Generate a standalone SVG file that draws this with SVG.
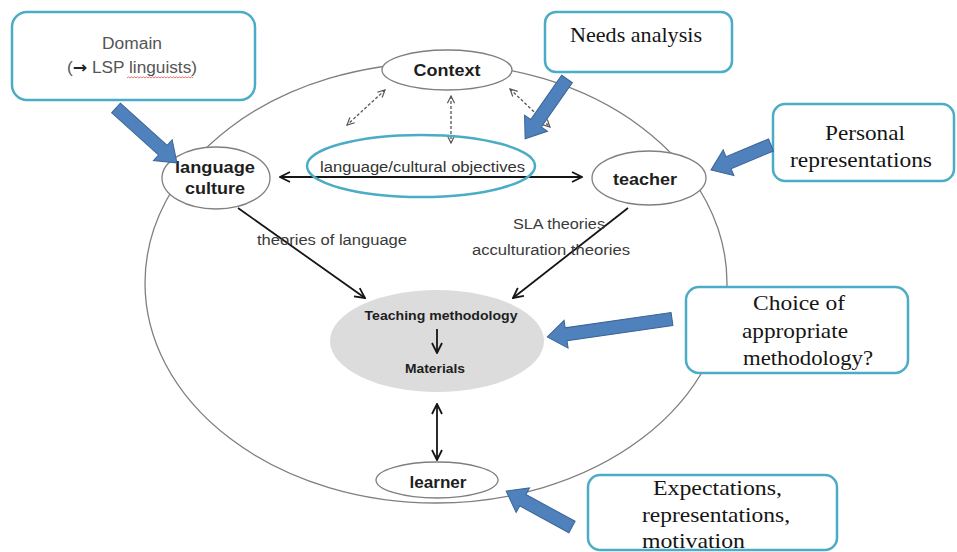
<svg xmlns="http://www.w3.org/2000/svg" width="957" height="552" viewBox="0 0 957 552">
<style>
.bg{fill:#fff}
.ring{fill:none;stroke:#7f7f7f;stroke-width:1.3}
.node{fill:#fff;stroke:#7f7f7f;stroke-width:1.3}
.lbl{font-family:"Liberation Sans",Arial,sans-serif;font-weight:bold;fill:#1e1e1e;text-anchor:middle}
.th{font-family:"Liberation Sans",Arial,sans-serif;fill:#3a3a3a;font-size:14px}
.box{fill:#fff;stroke:#4bacc6;stroke-width:2.5}
.ser{font-family:"Liberation Serif","Times New Roman",serif;font-size:22px;fill:#151515}
.blk{fill:#4f81bd;stroke:#3c6496;stroke-width:1}
.ln{stroke:#151515;stroke-width:1.8;fill:none}
.dot{stroke:#555;stroke-width:1.3;stroke-dasharray:3 2;fill:none}
</style>
<defs>
<marker id="ah" viewBox="0 0 12 12" refX="11" refY="6" markerWidth="12" markerHeight="12" markerUnits="userSpaceOnUse" orient="auto-start-reverse">
<path d="M1,1 L11,6 L1,11" fill="none" stroke="#151515" stroke-width="1.8"/>
</marker>
<marker id="ahd" viewBox="0 0 10 10" refX="9" refY="5" markerWidth="9" markerHeight="9" markerUnits="userSpaceOnUse" orient="auto-start-reverse">
<path d="M1,1 L9,5 L1,9" fill="none" stroke="#555" stroke-width="1.3"/>
</marker>
</defs>
<rect class="bg" x="0" y="0" width="957" height="552"/>
<ellipse id="context-ring" class="ring" cx="436" cy="283" rx="291" ry="220"/>

<g id="connectors">
<line class="ln" x1="280" y1="177" x2="582" y2="177" marker-start="url(#ah)" marker-end="url(#ah)"/>
<line class="dot" x1="385" y1="90" x2="347" y2="125" marker-start="url(#ahd)" marker-end="url(#ahd)"/>
<line class="dot" x1="451" y1="96" x2="451" y2="143" marker-start="url(#ahd)" marker-end="url(#ahd)"/>
<line class="dot" x1="510" y1="89" x2="550" y2="127" marker-start="url(#ahd)" marker-end="url(#ahd)"/>
<line class="ln" x1="238" y1="208" x2="365" y2="298" marker-end="url(#ah)"/>
<line class="ln" x1="628" y1="208" x2="513" y2="298" marker-end="url(#ah)"/>
<line class="ln" x1="437" y1="404" x2="437" y2="460" marker-start="url(#ah)" marker-end="url(#ah)"/>
</g>

<g id="objectives">
<ellipse cx="421" cy="166" rx="114" ry="31" fill="none" stroke="#4bacc6" stroke-width="2.5"/>
<text x="320" y="172" font-family="Liberation Sans, Arial, sans-serif" font-size="14" fill="#333" textLength="205" lengthAdjust="spacingAndGlyphs">language/cultural objectives</text>
</g>

<g id="context">
<ellipse class="node" cx="447" cy="70" rx="65" ry="20"/>
<text class="lbl" x="447" y="76" font-size="17" textLength="67" lengthAdjust="spacingAndGlyphs">Context</text>
</g>

<g id="language-culture">
<ellipse class="node" cx="216" cy="178" rx="54" ry="31"/>
<text class="lbl" x="215" y="173" font-size="17" textLength="80" lengthAdjust="spacingAndGlyphs">language</text>
<text class="lbl" x="215" y="194" font-size="17" textLength="60" lengthAdjust="spacingAndGlyphs">culture</text>
</g>

<g id="teacher">
<ellipse class="node" cx="649" cy="178" rx="57" ry="27"/>
<text class="lbl" x="645" y="185" font-size="17" textLength="64" lengthAdjust="spacingAndGlyphs">teacher</text>
</g>

<g id="theory-labels">
<text class="th" x="257" y="245" textLength="150" lengthAdjust="spacingAndGlyphs">theories of language</text>
<text class="th" x="513" y="229" textLength="92" lengthAdjust="spacingAndGlyphs">SLA theories</text>
<text class="th" x="472" y="255" textLength="158" lengthAdjust="spacingAndGlyphs">acculturation theories</text>
</g>

<g id="teaching">
<ellipse cx="437" cy="341" rx="107" ry="51" fill="#dcdcdc"/>
<text class="lbl" x="441" y="320" font-size="12.5" textLength="153" lengthAdjust="spacingAndGlyphs">Teaching methodology</text>
<line class="ln" x1="437" y1="329" x2="437" y2="353" marker-end="url(#ah)"/>
<text class="lbl" x="435" y="373" font-size="12.5" textLength="60" lengthAdjust="spacingAndGlyphs">Materials</text>
</g>

<g id="learner">
<ellipse class="node" cx="437" cy="480" rx="61" ry="18"/>
<text class="lbl" x="438" y="488" font-size="16" textLength="57" lengthAdjust="spacingAndGlyphs">learner</text>
</g>

<g id="domain">
<rect class="box" x="12" y="12" width="243" height="88" rx="15"/>
<text x="132" y="49" font-family="Liberation Sans, Arial, sans-serif" font-size="16" fill="#555" text-anchor="middle" textLength="60" lengthAdjust="spacingAndGlyphs">Domain</text>
<text x="132" y="73" font-family="Liberation Sans, Arial, sans-serif" font-size="16" fill="#555" text-anchor="middle" textLength="130" lengthAdjust="spacingAndGlyphs">(<tspan font-family="DejaVu Sans, sans-serif" font-weight="bold" fill="#222">→</tspan> LSP linguists)</text>
<path d="M127,78 l1.5,-1.2 l1.5,1.2 l1.5,-1.2 l1.5,1.2 l1.5,-1.2 l1.5,1.2 l1.5,-1.2 l1.5,1.2 l1.5,-1.2 l1.5,1.2 l1.5,-1.2 l1.5,1.2 l1.5,-1.2 l1.5,1.2 l1.5,-1.2 l1.5,1.2 l1.5,-1.2 l1.5,1.2 l1.5,-1.2 l1.5,1.2 l1.5,-1.2 l1.5,1.2 l1.5,-1.2 l1.5,1.2 l1.5,-1.2 l1.5,1.2 l1.5,-1.2 l1.5,1.2 l1.5,-1.2 l1.5,1.2 l1.5,-1.2 l1.5,1.2 l1.5,-1.2 l1.5,1.2 l1.5,-1.2 l1.5,1.2 l1.5,-1.2 l1.5,1.2 l1.5,-1.2 l1.5,1.2 l1.5,-1.2 l1.5,1.2 l1.5,-1.2 l1.5,1.2" fill="none" stroke="#e05050" stroke-width="0.8"/>
</g>

<g id="needs-analysis">
<rect class="box" x="545" y="12" width="187" height="60" rx="11"/>
<text class="ser" x="570" y="42" textLength="132" lengthAdjust="spacingAndGlyphs">Needs analysis</text>
</g>

<g id="personal">
<rect class="box" x="773" y="104" width="181" height="77" rx="12"/>
<text class="ser" x="825" y="140" textLength="80" lengthAdjust="spacingAndGlyphs">Personal</text>
<text class="ser" x="790" y="167" textLength="142" lengthAdjust="spacingAndGlyphs">representations</text>
</g>

<g id="choice">
<rect class="box" x="686" y="287" width="222" height="86" rx="13"/>
<text class="ser" x="753" y="310" textLength="92" lengthAdjust="spacingAndGlyphs">Choice of</text>
<text class="ser" x="742" y="338" textLength="106" lengthAdjust="spacingAndGlyphs">appropriate</text>
<text class="ser" x="743" y="365" textLength="130" lengthAdjust="spacingAndGlyphs">methodology?</text>
</g>

<g id="expectations">
<rect class="box" x="588" y="475" width="249" height="75" rx="12"/>
<text class="ser" x="653" y="495" textLength="129" lengthAdjust="spacingAndGlyphs">Expectations,</text>
<text class="ser" x="642" y="522" textLength="148" lengthAdjust="spacingAndGlyphs">representations,</text>
<text class="ser" x="642" y="548" textLength="103" lengthAdjust="spacingAndGlyphs">motivation</text>
</g>

<g id="influence-arrows">
<path class="blk" d="M0,-6.5 H63 V-14 L82,0 L63,14 V6.5 H0 Z" transform="translate(116,108) rotate(42)"/>
<path class="blk" d="M0,-6.5 H54 V-14 L73,0 L54,14 V6.5 H0 Z" transform="translate(567,79) rotate(125)"/>
<path class="blk" d="M0,-6.5 H46 V-14 L65,0 L46,14 V6.5 H0 Z" transform="translate(771,145) rotate(157.4)"/>
<path class="blk" d="M0,-6.5 H107 V-14 L126,0 L107,14 V6.5 H0 Z" transform="translate(672,319) rotate(171.8)"/>
<path class="blk" d="M0,-6.5 H56 V-14 L75,0 L56,14 V6.5 H0 Z" transform="translate(572,527) rotate(-151.4)"/>
</g>
</svg>
